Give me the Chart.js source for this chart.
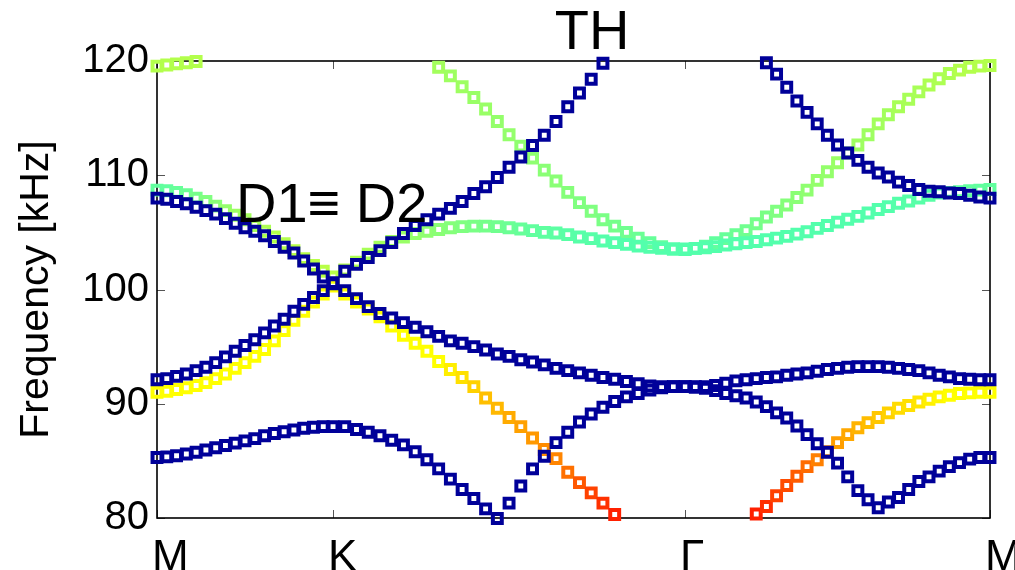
<!DOCTYPE html>
<html>
<head>
<meta charset="utf-8">
<script src="https://cdn.jsdelivr.net/npm/chart.js@4/dist/chart.umd.min.js"></script>
<style>
  body { margin: 0; background: #fff; }
</style>
</head>
<body>
<canvas id="bands" width="1015" height="570"></canvas>
<script>
// k-path M -> K -> Gamma -> M (hexagonal lattice), samples per segment
const kSegments = [18, 30, 30];
const kSegLength = [1, 2, Math.sqrt(3)];
const xTickPos = [0, 1, 3, 3 + Math.sqrt(3)];
const xTickNames = ['M', 'K', 'Γ', 'M'];
const yTicks = [80, 90, 100, 110, 120];

// frequencies in kHz, 19 pts M-K | 30 pts K-Γ | 30 pts Γ-M (null = outside 80..120)
const band1 = [
  85.3, 85.35, 85.45, 85.6, 85.75, 85.95, 86.15, 86.35, 86.55, 86.75, 86.95, 87.2, 87.4, 87.55, 87.7, 87.85, 87.95, 88.0, 88.0,
  88.0, 87.75, 87.5, 87.2, 86.8, 86.4, 85.8, 85.1, 84.3, 83.4, 82.5, 81.7, 80.8, 79.95, 81.3, 82.8, 84.3, 85.4, 86.6, 87.5, 88.4, 89.1, 89.7, 90.2, 90.6, 90.9, 91.2, 91.4, 91.5, 91.5,
  91.45, 91.35, 91.15, 90.9, 90.7, 90.5, 90.15, 89.75, 89.2, 88.75, 88.05, 87.3, 86.5, 85.75, 84.8, 83.6, 82.4, 81.6, 80.9, 81.4, 81.8, 82.5, 83.2, 83.6, 84.1, 84.5, 84.85, 85.15, 85.3, 85.3
];
const band2 = [
  92.1, 92.2, 92.4, 92.6, 92.9, 93.2, 93.6, 94.1, 94.6, 95.1, 95.6, 96.2, 96.8, 97.4, 98.1, 98.7, 99.3, 99.9, 100.5,
  99.9, 99.2, 98.5, 97.9, 97.5, 97.1, 96.7, 96.3, 95.9, 95.5, 95.3, 95.0, 94.7, 94.35, 94.15, 93.85, 93.65, 93.4, 93.1, 92.9, 92.7, 92.5, 92.3, 92.15, 91.95, 91.75, 91.55, 91.5, 91.5, 91.5,
  91.5, 91.5, 91.6, 91.8, 92.0, 92.1, 92.2, 92.3, 92.35, 92.5, 92.6, 92.7, 92.85, 93.0, 93.1, 93.2, 93.25, 93.25, 93.25, 93.2, 93.1, 93.0, 92.9, 92.7, 92.5, 92.35, 92.2, 92.15, 92.1, 92.1
];
const band3 = [
  91.0, 91.1, 91.25, 91.4, 91.6, 91.85, 92.2, 92.6, 93.1, 93.6, 94.15, 94.75, 95.5, 96.4, 97.3, 98.1, 98.9, 99.6, 100.3,
  99.6, 98.9, 98.3, 97.6, 96.8, 96.0, 95.3, 94.6, 93.7, 93.0, 92.3, 91.5, 90.5, 89.6, 88.8, 88.0, 87.0, 86.0, 85.2, 84.0, 83.1, 82.2, 81.3, 80.3, null, null, null, null, null, null,
  null, null, null, null, null, null, 80.35, 81.0, 81.95, 82.85, 83.65, 84.5, 85.1, 85.8, 86.6, 87.3, 87.9, 88.35, 88.8, 89.2, 89.6, 89.85, 90.15, 90.4, 90.6, 90.75, 90.9, 90.95, 91.0, 91.0
];
const band4 = [
  108.0, 107.9, 107.7, 107.5, 107.2, 106.9, 106.6, 106.2, 105.8, 105.4, 105.1, 104.7, 104.2, 103.7, 103.2, 102.5, 101.8, 101.1, 100.6,
  101.6, 102.2, 102.8, 103.4, 104.1, 104.9, 105.6, 106.1, 106.6, 107.1, 107.7, 108.4, 109.0, 109.8, 110.7, 111.6, 112.6, 113.5, 114.7, 116.0, 117.2, 118.4, 119.8, null, null, null, null, null, null, null,
  null, null, null, null, null, null, null, 119.85, 118.85, 117.7, 116.5, 115.5, 114.5, 113.5, 112.65, 111.95, 111.3, 110.7, 110.2, 109.85, 109.4, 109.1, 108.75, 108.6, 108.55, 108.45, 108.4, 108.25, 108.1, 108.0
];
const band5 = [
  108.7, 108.65, 108.5, 108.3, 108.0, 107.7, 107.3, 106.9, 106.5, 106.1, 105.6, 105.1, 104.6, 104.0, 103.4, 102.7, 102.1, 101.6, 101.1,
  101.7, 102.4, 103.1, 103.7, 104.2, 104.6, 104.9, 105.1, 105.25, 105.4, 105.5, 105.55, 105.55, 105.5, 105.4, 105.3, 105.15, 105.0, 104.95, 104.8, 104.6, 104.45, 104.25, 104.1, 103.95, 103.8, 103.7, 103.6, 103.55, 103.55,
  103.6, 103.65, 103.75, 103.9, 104.0, 104.1, 104.2, 104.35, 104.5, 104.65, 104.85, 105.05, 105.35, 105.6, 105.9, 106.15, 106.4, 106.7, 107.0, 107.25, 107.55, 107.75, 108.0, 108.25, 108.45, 108.5, 108.55, 108.65, 108.7, 108.75
];
const band6 = [
  119.55, 119.65, 119.75, 119.85, 119.95, null, null, null, null, null, null, null, null, null, null, null, null, null, null,
  null, null, null, null, null, null, null, null, 119.45, 118.7, 117.75, 116.8, 115.8, 114.7, 113.55, 112.55, 111.5, 110.45, 109.5, 108.5, 107.6, 106.85, 106.1, 105.55, 105.0, 104.5, 104.1, 103.75, 103.55, 103.5,
  103.6, 103.8, 104.1, 104.45, 104.8, 105.15, 105.75, 106.35, 106.85, 107.4, 108.05, 108.7, 109.55, 110.3, 111.1, 111.95, 112.65, 113.55, 114.5, 115.3, 116.0, 116.65, 117.3, 117.9, 118.45, 118.9, 119.2, 119.45, 119.55, 119.6
];

// polarization (0..1, shown with the jet colour map)
const polBlue = 0.025;
const pol3 = [
  .625, .625, .625, .625, .625, .625, .625, .625, .625, .625, .625, .625, .625, .625, .625, .625, .625, .625, .625,
  .625, .625, .625, .625, .625, .625, .625, .625, .625, .642, .655, .67, .6875, .695, .7075, .7175, .725, .7375, .745, .765, .79, .81, .827, .844, null, null, null, null, null, null,
  null, null, null, null, null, null, .844, .83, .81, .80, .785, .77, .75, .735, .72, .71, .70, .69, .68, .67, .66, .655, .65, .64, .633, .625, .625, .625, .625, .625
];
const pol5 = [
  .47, .47, .475, .48, .49, .50, .51, .52, .53, .535, .54, .545, .55, .55, .555, .555, .555, .555, .555,
  .55, .545, .54, .535, .53, .525, .52, .515, .51, .505, .50, .495, .49, .485, .48, .475, .47, .468, .465, .462, .46, .46, .458, .458, .456, .456, .456, .456, .456, .456,
  .456, .456, .456, .456, .456, .456, .456, .456, .456, .456, .456, .456, .456, .456, .456, .456, .456, .456, .456, .456, .458, .46, .46, .462, .464, .466, .468, .47, .47, .47
];
const pol6 = [
  .55, .55, .55, .55, .55, null, null, null, null, null, null, null, null, null, null, null, null, null, null,
  null, null, null, null, null, null, null, null, .535, .53, .53, .525, .525, .52, .52, .515, .515, .51, .51, .505, .50, .50, .495, .49, .485, .48, .475, .47, .465, .46,
  .46, .465, .47, .475, .48, .485, .49, .495, .50, .505, .51, .515, .52, .52, .525, .525, .53, .53, .535, .535, .54, .54, .54, .545, .545, .545, .55, .55, .55, .55
];

const titleText = 'TH';
const noteText = 'D1\u2261 D2';

const kPath = [0];
let kStart = 0;
kSegments.forEach((n, s) => {
    for (let i = 1; i <= n; i++) kPath.push(kStart + kSegLength[s] * i / n);
    kStart += kSegLength[s];
});

function jet(v) {
    const c = t => Math.round(255 * Math.max(0, Math.min(1, 1.5 - Math.abs(4 * v - t))));
    return `rgb(${c(3)},${c(2)},${c(1)})`;
}

function bandSet(name, vals, pol) {
    const idx = [];
    vals.forEach((v, n) => { if (v !== null) idx.push(n); });
    return {
        label: name,
        data: idx.map(n => ({ x: kPath[n], y: vals[n] })),
        pointStyle: 'rect',
        pointRadius: 6.3,
        pointHoverRadius: 6.3,
        pointBorderWidth: 4,
        pointBorderColor: idx.map(n => jet(Array.isArray(pol) ? pol[n] : pol)),
        pointBackgroundColor: 'rgba(0,0,0,0)',
        showLine: false,
        clip: false
    };
}

const FONT = "'Liberation Sans', Arial, sans-serif";
Chart.defaults.font.family = FONT;

// frame, inner tick marks and text labels
const framePlugin = {
    id: 'frame',
    beforeDatasetsDraw(chart) {
        const { ctx, chartArea: a, scales } = chart;
        ctx.save();
        ctx.strokeStyle = '#555';
        ctx.lineWidth = 1;
        ctx.beginPath();
        yTicks.forEach(v => {
            const y = Math.round(scales.y.getPixelForValue(v)) + 0.5;
            ctx.moveTo(a.left, y); ctx.lineTo(a.left + 8, y);
            ctx.moveTo(a.right, y); ctx.lineTo(a.right - 8, y);
        });
        xTickPos.forEach(v => {
            const x = Math.round(scales.x.getPixelForValue(v)) + 0.5;
            ctx.moveTo(x, a.bottom); ctx.lineTo(x, a.bottom - 8);
            ctx.moveTo(x, a.top); ctx.lineTo(x, a.top + 8);
        });
        ctx.stroke();
        ctx.strokeStyle = '#000';
        ctx.lineWidth = 1.6;
        ctx.strokeRect(a.left, a.top, a.right - a.left, a.bottom - a.top);
        ctx.restore();
    },
    afterDraw(chart) {
        const { ctx } = chart;
        ctx.save();
        ctx.fillStyle = '#000';
        ctx.font = '56px ' + FONT;
        ctx.textBaseline = 'alphabetic';
        ctx.textAlign = 'center';
        ctx.fillText(titleText, 592, 49);
        ctx.textAlign = 'left';
        ctx.fillText(noteText, 236, 222);
        ctx.restore();
    }
};

new Chart(document.getElementById('bands'), {
    type: 'scatter',
    data: {
        datasets: [
            bandSet('band 4', band4, polBlue),
            bandSet('band 2', band2, polBlue),
            bandSet('band 1', band1, polBlue),
            bandSet('band 3', band3, pol3),
            bandSet('band 5', band5, pol5),
            bandSet('band 6', band6, pol6)
        ]
    },
    options: {
        responsive: false,
        animation: false,
        devicePixelRatio: 1,
        layout: { padding: { left: 0, top: 61, right: 25, bottom: 0 } },
        plugins: {
            legend: { display: false },
            tooltip: { enabled: false }
        },
        scales: {
            x: {
                type: 'linear',
                min: xTickPos[0],
                max: xTickPos[xTickPos.length - 1],
                afterBuildTicks: s => { s.ticks = xTickPos.map(v => ({ value: v })); },
                afterFit: s => { s.height = 52; s.paddingLeft = 0; s.paddingRight = 0; },
                grid: { display: false },
                border: { display: false },
                ticks: {
                    autoSkip: false,
                    maxRotation: 0,
                    align: 'start',
                    labelOffset: -5,
                    padding: 6,
                    color: '#000',
                    font: { size: 44 },
                    callback: (v, i) => xTickNames[i]
                }
            },
            y: {
                min: 80,
                max: 120,
                afterFit: s => { s.width = 157; s.paddingTop = 0; s.paddingBottom = 0; },
                grid: { display: false },
                border: { display: false },
                ticks: { stepSize: 10, padding: 0, color: '#000', font: { size: 40 } },
                title: {
                    display: true,
                    text: 'Frequency [kHz]',
                    color: '#000',
                    font: { size: 41 },
                    padding: { top: 12, bottom: 0 }
                }
            }
        }
    },
    plugins: [framePlugin]
});
</script>
</body>
</html>
